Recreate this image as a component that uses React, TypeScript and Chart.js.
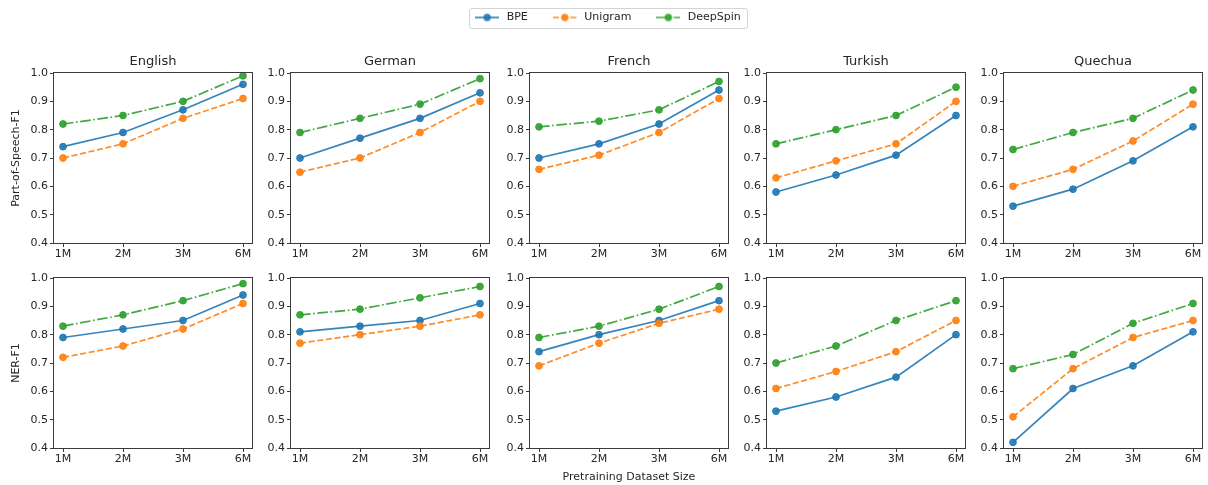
import React, { useEffect, useRef } from "react";
import { Chart, registerables } from "chart.js";

Chart.register(...registerables);

const FONT = "'DejaVu Sans', sans-serif";

// ---- data ----
const languages = ["English", "German", "French", "Turkish", "Quechua"];
const xLabels = ["1M", "2M", "3M", "6M"];
const yTicks = [0.4, 0.5, 0.6, 0.7, 0.8, 0.9, 1.0];
const seriesNames = ["BPE", "Unigram", "DeepSpin"];
const rowLabels = ["Part-of-Speech-F1", "NER-F1"];
const xAxisTitle = "Pretraining Dataset Size";

// per language: English, German, French, Turkish, Quechua
const posBpe = [
  [0.74, 0.79, 0.87, 0.96],
  [0.70, 0.77, 0.84, 0.93],
  [0.70, 0.75, 0.82, 0.94],
  [0.58, 0.64, 0.71, 0.85],
  [0.53, 0.59, 0.69, 0.81],
];
const posUnigram = [
  [0.70, 0.75, 0.84, 0.91],
  [0.65, 0.70, 0.79, 0.90],
  [0.66, 0.71, 0.79, 0.91],
  [0.63, 0.69, 0.75, 0.90],
  [0.60, 0.66, 0.76, 0.89],
];
const posDeepSpin = [
  [0.82, 0.85, 0.90, 0.99],
  [0.79, 0.84, 0.89, 0.98],
  [0.81, 0.83, 0.87, 0.97],
  [0.75, 0.80, 0.85, 0.95],
  [0.73, 0.79, 0.84, 0.94],
];
const nerBpe = [
  [0.79, 0.82, 0.85, 0.94],
  [0.81, 0.83, 0.85, 0.91],
  [0.74, 0.80, 0.85, 0.92],
  [0.53, 0.58, 0.65, 0.80],
  [0.42, 0.61, 0.69, 0.81],
];
const nerUnigram = [
  [0.72, 0.76, 0.82, 0.91],
  [0.77, 0.80, 0.83, 0.87],
  [0.69, 0.77, 0.84, 0.89],
  [0.61, 0.67, 0.74, 0.85],
  [0.51, 0.68, 0.79, 0.85],
];
const nerDeepSpin = [
  [0.83, 0.87, 0.92, 0.98],
  [0.87, 0.89, 0.93, 0.97],
  [0.79, 0.83, 0.89, 0.97],
  [0.70, 0.76, 0.85, 0.92],
  [0.68, 0.73, 0.84, 0.91],
];

// ---- styles ----
const colors = ["rgba(31,119,180,0.9)", "rgba(255,127,14,0.9)", "rgba(44,160,44,0.9)"];
const dashes = [[], [6.1, 2.6], [10.6, 2.6, 1.6, 2.6]];
const LINE_W = 1.7;
const PT_R = 3.4;
const TEXT = "#262626";
const AXIS = "#3a3a3a";

// ---- layout ----
const plotLefts = [54, 291, 530, 767, 1004];
const PLOT_W = 198;
const PLOT_H = 170;
const PAD_R = 8;

const framePlugin = {
  id: "frame",
  afterDatasetsDraw(chart: any) {
    const { ctx, chartArea: a } = chart;
    const l = Math.round(a.left), t = Math.round(a.top), r = Math.round(a.right), b = Math.round(a.bottom);
    ctx.save();
    ctx.strokeStyle = AXIS;
    ctx.lineWidth = 1;
    ctx.setLineDash([]);
    ctx.strokeRect(l - 0.5, t - 0.5, r - l + 1, b - t + 1);
    ctx.restore();
  },
};

function Panel({ row, col }: { row: number; col: number }) {
  const ref = useRef<HTMLCanvasElement | null>(null);
  const yW = col === 0 ? 54 : 30;
  const left = plotLefts[col] - yW;
  const top = row === 0 ? 45 : 268;
  const topBlock = row === 0 ? 28 : 10;
  const xH = row === 0 ? 20 : 37;
  const width = yW + PLOT_W + PAD_R;
  const height = topBlock + PLOT_H + xH;

  useEffect(() => {
    const tables = row === 0 ? [posBpe, posUnigram, posDeepSpin] : [nerBpe, nerUnigram, nerDeepSpin];
    const datasets = seriesNames.map((name, s) => ({
      label: name,
      data: tables[s][col].map((v, i) => ({ x: i, y: v })),
      borderColor: colors[s],
      backgroundColor: colors[s],
      borderWidth: LINE_W,
      borderDash: dashes[s],
      pointRadius: PT_R,
      pointHoverRadius: PT_R,
      pointBackgroundColor: colors[s],
      pointBorderColor: colors[s],
      pointBorderWidth: 1,
      tension: 0,
      order: 2 - s,
    }));
    const tickFont = { family: FONT, size: 11 };
    const chart = new Chart(ref.current as HTMLCanvasElement, {
      type: "line",
      data: { datasets },
      options: {
        animation: false,
        responsive: false,
        devicePixelRatio: 1,
        layout: { padding: { top: row === 0 ? 0 : topBlock, right: PAD_R, left: 0, bottom: 0 } },
        plugins: {
          legend: { display: false },
          tooltip: { enabled: false },
          title: {
            display: row === 0,
            text: languages[col],
            fullSize: false,
            color: TEXT,
            font: { family: FONT, size: 13, weight: "normal" },
            padding: { top: 8.4, bottom: 4.0 },
          },
        },
        scales: {
          x: {
            type: "linear",
            min: -0.15,
            max: 3.15,
            afterBuildTicks: (s: any) => {
              s.ticks = xLabels.map((_, i) => ({ value: i }));
            },
            afterFit: (s: any) => {
              s.height = xH;
            },
            ticks: {
              callback: (v: any) => xLabels[v] ?? "",
              font: tickFont,
              color: TEXT,
              padding: 1,
              maxRotation: 0,
              autoSkip: false,
            },
            grid: { display: true, drawOnChartArea: false, drawTicks: true, tickLength: 4, color: AXIS },
            border: { display: false },
            title: {
              display: row === 1 && col === 2,
              text: xAxisTitle,
              color: TEXT,
              font: { family: FONT, size: 11 },
              padding: { top: 0, bottom: 1.7 },
            },
          },
          y: {
            type: "linear",
            min: yTicks[0],
            max: yTicks[yTicks.length - 1],
            afterBuildTicks: (s: any) => {
              s.ticks = yTicks.map((v) => ({ value: v }));
            },
            afterFit: (s: any) => {
              s.width = yW;
            },
            ticks: {
              callback: (v: any) => Number(v).toFixed(1),
              font: tickFont,
              color: TEXT,
              padding: 2,
            },
            grid: { display: true, drawOnChartArea: false, drawTicks: true, tickLength: 4, color: AXIS },
            border: { display: false },
            title: {
              display: col === 0,
              text: rowLabels[row],
              color: TEXT,
              font: { family: FONT, size: 11 },
              padding: { top: 9.5, bottom: 0 },
            },
          },
        },
      } as any,
      plugins: [framePlugin],
    });
    return () => chart.destroy();
  }, [row, col]);

  return (
    <canvas
      ref={ref}
      width={width}
      height={height}
      style={{ position: "absolute", left, top, width, height }}
    />
  );
}

function makeHandle(s: number): HTMLCanvasElement {
  const c = document.createElement("canvas");
  c.width = 24;
  c.height = 12;
  const ctx = c.getContext("2d") as CanvasRenderingContext2D;
  ctx.strokeStyle = colors[s];
  ctx.fillStyle = colors[s];
  ctx.lineWidth = LINE_W;
  ctx.setLineDash(dashes[s]);
  ctx.beginPath();
  ctx.moveTo(0, 6);
  ctx.lineTo(24, 6);
  ctx.stroke();
  ctx.setLineDash([]);
  ctx.beginPath();
  ctx.arc(12, 6, PT_R + 0.3, 0, Math.PI * 2);
  ctx.fill();
  return c;
}

const legendFramePlugin = {
  id: "legendFrame",
  afterDraw(chart: any) {
    const boxes = chart.legend && chart.legend.legendHitBoxes;
    if (!boxes || !boxes.length) return;
    const first = boxes[0];
    const last = boxes[boxes.length - 1];
    const l = Math.round(first.left - 4) + 0.5;
    const r = Math.round(last.left + last.width + 6) + 0.5;
    const cy = first.top + first.height / 2;
    const t = Math.round(cy - 10) + 0.5;
    const b = Math.round(cy + 10) + 0.5;
    const { ctx } = chart;
    ctx.save();
    ctx.strokeStyle = "#d4d4d4";
    ctx.lineWidth = 1;
    ctx.beginPath();
    (ctx as any).roundRect(l, t, r - l, b - t, 2.5);
    ctx.stroke();
    ctx.restore();
  },
};

const LEGEND_TOP = -11;
const LEGEND_LEFT = 3;
const LEGEND_H = 140;

function Legend() {
  const ref = useRef<HTMLCanvasElement | null>(null);
  useEffect(() => {
    const handles = seriesNames.map((_, s) => makeHandle(s));
    const chart = new Chart(ref.current as HTMLCanvasElement, {
      type: "line",
      data: {
        datasets: seriesNames.map((n, s) => ({ label: n, data: [], borderColor: colors[s], backgroundColor: colors[s] })),
      },
      options: {
        animation: false,
        responsive: false,
        devicePixelRatio: 1,
        layout: { padding: 0 },
        scales: { x: { display: false }, y: { display: false } },
        plugins: {
          tooltip: { enabled: false },
          title: { display: false },
          legend: {
            display: true,
            position: "top",
            onClick: () => {},
            labels: {
              usePointStyle: true,
              pointStyleWidth: 28,
              padding: 23,
              color: TEXT,
              font: { family: FONT, size: 11 },
              generateLabels: () =>
                seriesNames.map((n, s) => ({
                  text: n,
                  fillStyle: colors[s],
                  strokeStyle: colors[s],
                  lineWidth: 0,
                  pointStyle: handles[s],
                  hidden: false,
                  datasetIndex: s,
                  fontColor: TEXT,
                })),
            },
          },
        },
      } as any,
      plugins: [legendFramePlugin],
    });
    return () => chart.destroy();
  }, []);
  return (
    <canvas
      ref={ref}
      width={1208}
      height={LEGEND_H}
      style={{ position: "absolute", left: LEGEND_LEFT, top: LEGEND_TOP, width: 1208, height: LEGEND_H, pointerEvents: "none" }}
    />
  );
}

export default function App() {
  const panels = [];
  for (let r = 0; r < 2; r++) {
    for (let c = 0; c < languages.length; c++) {
      panels.push(<Panel key={`${r}-${c}`} row={r} col={c} />);
    }
  }
  return (
    <div
      style={{
        position: "absolute",
        left: 0,
        top: 0,
        width: 1208,
        height: 485,
        background: "#ffffff",
        overflow: "hidden",
      }}
    >
      <Legend />
      {panels}
    </div>
  );
}
